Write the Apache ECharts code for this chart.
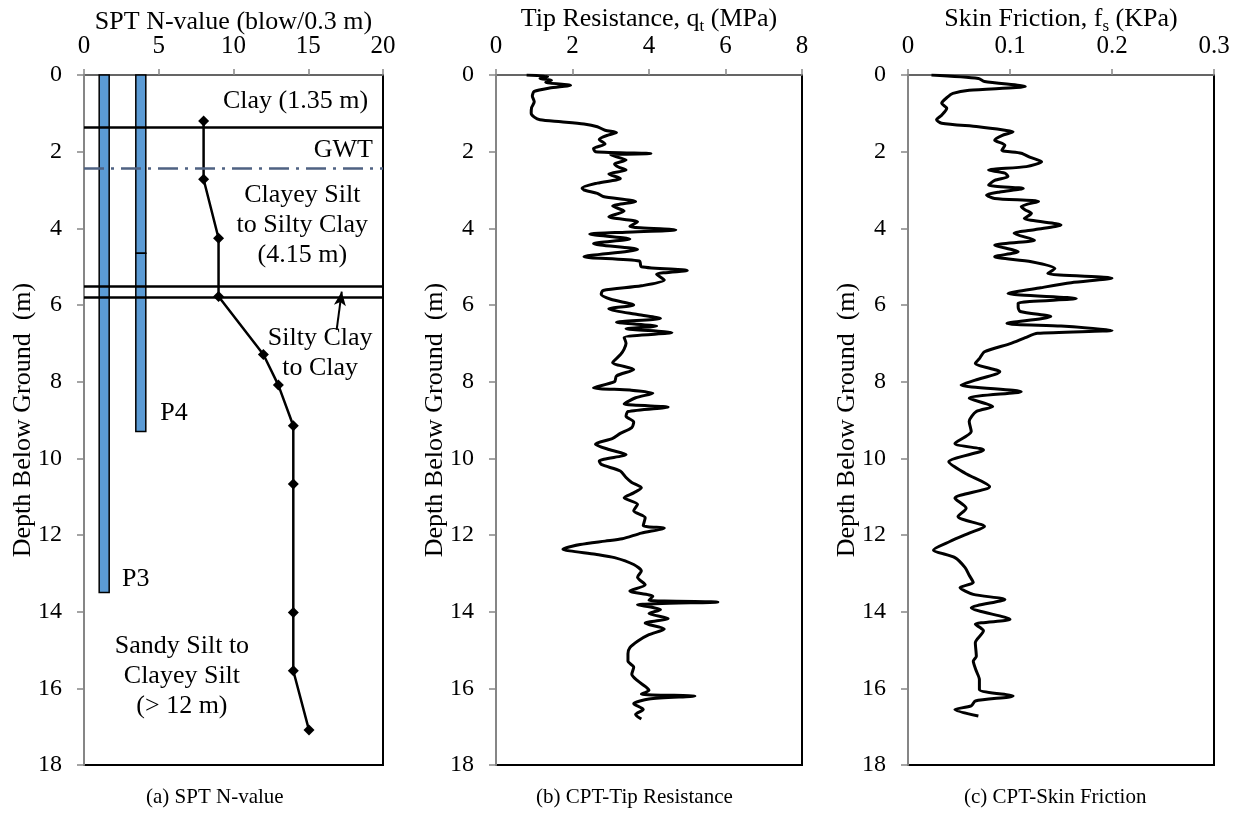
<!DOCTYPE html>
<html>
<head>
<meta charset="utf-8">
<script src="https://cdn.jsdelivr.net/npm/echarts@6/dist/echarts.min.js"></script>
<style>html,body{margin:0;padding:0;background:#fff}#c{width:1240px;height:817px}</style>
</head>
<body>
<div id="c"></div>
<script>
// ---- Data ----
const depthTicks = [0, 2, 4, 6, 8, 10, 12, 14, 16, 18];
// SPT N-value profile: [N, depth]
const sptN =     [8, 8, 9, 9, 12, 13, 14, 14, 14, 14, 15.05];
const sptDepth = [1.2, 2.72, 4.26, 5.78, 7.29, 8.09, 9.15, 10.67, 14.02, 15.54, 17.09];
// Piles: [x-position (N axis), top depth, bottom depth]
const pileP3 = [[1.35, 0, 13.5]];
const pileP4 = [[3.8, 0, 4.65], [3.8, 4.65, 9.3]];
// Layer boundaries (m) and ground water table (m)
const layerDepths = [1.35, 5.5, 5.8];
const gwtDepth = 2.43;
// CPT tip resistance: depth (m) and q_t (MPa)
const tipDepth = [0.00,0.04,0.09,0.14,0.19,0.27,0.34,0.43,0.55,0.70,0.85,1.00,1.10,1.17,1.22,1.28,1.35,1.44,1.50,1.56,1.68,1.80,1.92,2.00,2.05,2.08,2.15,2.22,2.32,2.40,2.48,2.58,2.70,2.82,2.95,3.00,3.09,3.17,3.30,3.42,3.55,3.70,3.83,3.95,4.04,4.10,4.15,4.28,4.40,4.55,4.74,4.85,5.00,5.10,5.20,5.35,5.50,5.62,5.72,5.85,6.00,6.10,6.25,6.35,6.45,6.55,6.62,6.72,6.85,7.00,7.15,7.30,7.50,7.68,7.85,8.00,8.16,8.22,8.30,8.42,8.58,8.66,8.78,8.90,9.05,9.20,9.35,9.48,9.63,9.77,9.90,10.07,10.16,10.33,10.50,10.63,10.77,10.90,11.03,11.20,11.37,11.55,11.75,11.82,11.95,12.10,12.16,12.25,12.37,12.50,12.59,12.77,12.94,13.10,13.30,13.46,13.60,13.70,13.75,13.82,13.95,14.05,14.18,14.30,14.45,14.60,14.77,14.94,15.10,15.29,15.45,15.63,15.80,15.95,16.05,16.15,16.20,16.28,16.40,16.55,16.68,16.80];
const tipQ =     [0.80,1.35,1.15,1.45,1.30,1.95,1.40,1.00,0.95,1.00,0.93,0.92,1.00,1.15,1.70,2.30,2.65,2.85,3.15,2.95,2.70,2.85,2.55,2.60,4.05,3.00,3.20,3.40,3.10,3.20,3.40,2.95,3.25,2.65,2.25,2.30,2.65,2.80,3.65,3.05,3.35,2.95,3.70,3.50,4.70,3.40,2.45,3.50,2.55,3.70,2.30,3.75,3.80,5.00,4.20,4.40,3.80,2.80,2.75,3.00,3.60,2.95,3.70,4.30,3.15,4.20,3.40,4.60,3.35,3.40,3.35,3.25,3.05,3.60,3.15,3.10,2.55,3.50,4.10,3.65,3.35,4.50,3.45,3.40,3.60,3.55,3.25,3.05,2.60,2.95,3.40,2.70,2.75,3.25,3.40,3.55,3.80,3.60,3.35,3.70,3.60,3.90,3.85,4.40,3.80,3.30,2.85,2.20,1.75,2.60,3.10,3.60,3.80,3.70,3.90,3.50,4.10,4.00,5.80,3.70,4.30,4.00,4.50,3.90,4.40,4.00,3.70,3.50,3.45,3.45,3.60,3.55,3.70,3.90,4.00,3.80,5.20,4.00,3.60,3.85,3.65,3.80];
// CPT skin friction: depth (m) and f_s (KPa)
const fsDepth = [0.00,0.09,0.17,0.30,0.40,0.48,0.57,0.74,0.87,1.05,1.17,1.26,1.35,1.44,1.48,1.58,1.70,1.83,1.96,2.04,2.15,2.26,2.39,2.48,2.56,2.65,2.75,2.87,2.96,3.05,3.13,3.22,3.30,3.43,3.52,3.61,3.74,3.91,4.03,4.13,4.31,4.44,4.61,4.74,4.87,5.05,5.18,5.30,5.42,5.55,5.70,5.83,5.95,6.05,6.17,6.30,6.48,6.55,6.66,6.74,6.85,7.00,7.22,7.40,7.52,7.74,7.96,8.09,8.26,8.43,8.65,8.78,9.04,9.30,9.61,9.78,10.09,10.39,10.74,11.04,11.30,11.52,11.78,11.95,12.17,12.39,12.59,12.85,13.05,13.24,13.37,13.55,13.68,13.90,14.20,14.33,14.50,14.81,15.16,15.29,15.55,15.77,16.03,16.20,16.33,16.46,16.55,16.72];
const fsVal =   [0.023,0.069,0.075,0.115,0.060,0.044,0.039,0.033,0.038,0.033,0.028,0.033,0.069,0.095,0.103,0.092,0.085,0.095,0.092,0.111,0.120,0.131,0.116,0.079,0.095,0.098,0.085,0.079,0.113,0.090,0.077,0.085,0.128,0.111,0.115,0.121,0.114,0.150,0.125,0.104,0.124,0.085,0.108,0.085,0.121,0.144,0.137,0.200,0.160,0.130,0.098,0.165,0.108,0.108,0.110,0.140,0.097,0.150,0.200,0.127,0.115,0.101,0.075,0.070,0.066,0.090,0.066,0.052,0.111,0.060,0.083,0.067,0.060,0.062,0.046,0.074,0.040,0.056,0.080,0.046,0.057,0.049,0.075,0.060,0.041,0.025,0.046,0.056,0.060,0.064,0.051,0.064,0.095,0.062,0.100,0.066,0.074,0.066,0.067,0.064,0.067,0.070,0.070,0.103,0.066,0.062,0.046,0.069];
// Annotation texts with anchor points in data units [N, depth]
const notes = [
  {text: 'Clay (1.35 m)', at: [19.0, 0.68], align: 'right'},
  {text: 'GWT', at: [19.33, 1.96], align: 'right'},
  {text: 'Clayey Silt\nto Silty Clay\n(4.15 m)', at: [14.6, 3.91], align: 'center'},
  {text: 'Silty Clay\nto Clay', at: [15.8, 7.25], align: 'center'},
  {text: 'P4', at: [5.1, 8.82], align: 'left'},
  {text: 'P3', at: [2.55, 13.15], align: 'left'},
  {text: 'Sandy Silt to\nClayey Silt\n(> 12 m)', at: [6.55, 15.68], align: 'center'}
];
const arrowFrom = [16.9, 6.65];
const arrowTo = [17.24, 5.65];

// ---- Chart ----
const FONT = 'Liberation Serif';
const AX = '#868686';
const chart = echarts.init(document.getElementById('c'));

function zip(xs, ys) { return xs.map((x, i) => [x, ys[i]]); }

const grids = [
  {left: 84, top: 75, width: 299, height: 690},
  {left: 496, top: 75, width: 306, height: 690},
  {left: 908, top: 75, width: 306, height: 690}
].map(g => Object.assign({show: true, borderColor: '#000', borderWidth: 2, backgroundColor: 'transparent',
                          containLabel: false, outerBoundsMode: 'none'}, g));

function xAxis(i, max, interval, name, rich) {
  return {
    gridIndex: i, type: 'value', position: 'top', min: 0, max: max, interval: interval,
    axisLine: {show: true, onZero: false, lineStyle: {color: AX, width: 1.5}},
    axisTick: {show: true, length: 6, lineStyle: {color: AX, width: 1.5}},
    axisLabel: {color: '#000', fontFamily: FONT, fontSize: 25, margin: 16},
    splitLine: {show: false},
    name: name, nameLocation: 'middle', nameGap: 40, nameMoveOverlap: false,
    nameTextStyle: {color: '#000', fontFamily: FONT, fontSize: 26, rich: rich}
  };
}
function yAxis(i) {
  return {
    gridIndex: i, type: 'value', inverse: true, min: 0, max: 18, interval: 2,
    axisLine: {show: true, onZero: false, lineStyle: {color: AX, width: 2}},
    axisTick: {show: true, length: 7, lineStyle: {color: AX, width: 1.5}},
    axisLabel: {color: '#000', fontFamily: FONT, fontSize: 24, margin: 22},
    splitLine: {show: false},
    name: 'Depth Below Ground  (m)', nameLocation: 'middle', nameGap: 48, nameRotate: 90,
    nameMoveOverlap: false,
    nameTextStyle: {color: '#000', fontFamily: FONT, fontSize: 26}
  };
}
const richTitle = {
  a: {fontFamily: FONT, fontSize: 26, color: '#000'},
  s: {fontFamily: FONT, fontSize: 17, color: '#000', verticalAlign: 'bottom', padding: [14, 0, 0, 0]}
};

function pileSeries(data) {
  return {
    type: 'custom', xAxisIndex: 0, yAxisIndex: 0, z: 2, silent: true,
    data: data,
    renderItem: function (params, api) {
      const p0 = api.coord([api.value(0), api.value(1)]);
      const p1 = api.coord([api.value(0), api.value(2)]);
      return {type: 'rect', shape: {x: p0[0] - 5, y: p0[1], width: 10, height: p1[1] - p0[1]},
              style: {fill: '#5B9BD5', stroke: '#000', lineWidth: 1.5}};
    }
  };
}

const option = {
  animation: false,
  backgroundColor: '#fff',
  grid: grids,
  xAxis: [
    xAxis(0, 20, 5, 'SPT N-value (blow/0.3 m)'),
    xAxis(1, 8, 2, '{a|Tip Resistance, q}{s|t}{a| (MPa)}', richTitle),
    xAxis(2, 0.3, 0.1, '{a|Skin Friction, f}{s|s}{a| (KPa)}', richTitle)
  ],
  yAxis: [yAxis(0), yAxis(1), yAxis(2)],
  series: [
    pileSeries(pileP3),
    pileSeries(pileP4),
    {
      type: 'line', xAxisIndex: 0, yAxisIndex: 0, z: 3, silent: true,
      data: [], symbol: 'none',
      markLine: {
        silent: true, symbol: 'none', label: {show: false},
        lineStyle: {color: '#000', width: 2.5, type: 'solid'},
        data: layerDepths.map(d => ({yAxis: d})).concat([
          {yAxis: gwtDepth, lineStyle: {color: '#4F6282', width: 2.5, type: [20, 7, 3, 7]}}
        ])
      }
    },
    {
      type: 'line', xAxisIndex: 0, yAxisIndex: 0, z: 4, silent: true,
      data: zip(sptN, sptDepth),
      symbol: 'diamond', symbolSize: 11,
      itemStyle: {color: '#000'},
      lineStyle: {color: '#000', width: 2.5}
    },
    {
      type: 'line', xAxisIndex: 0, yAxisIndex: 0, z: 5, silent: true,
      data: [], symbol: 'none',
      markLine: {
        silent: true, label: {show: false}, symbol: ['none', 'arrow'], symbolSize: [9, 14],
        lineStyle: {color: '#000', width: 2, type: 'solid'},
        data: [[{coord: arrowFrom}, {coord: arrowTo}]]
      }
    },
    {
      type: 'scatter', xAxisIndex: 0, yAxisIndex: 0, z: 6, silent: true,
      symbolSize: 0, itemStyle: {opacity: 1},
      data: notes.map(n => ({value: n.at, name: n.text, label: {align: n.align}})),
      label: {show: true, position: 'inside', formatter: '{b}', color: '#000', opacity: 1,
              fontFamily: FONT, fontSize: 26, lineHeight: 30, verticalAlign: 'middle'}
    },
    {
      type: 'line', xAxisIndex: 1, yAxisIndex: 1, silent: true,
      data: zip(tipQ, tipDepth), symbol: 'none', smooth: 0.25,
      lineStyle: {color: '#000', width: 3}
    },
    {
      type: 'line', xAxisIndex: 2, yAxisIndex: 2, silent: true,
      data: zip(fsVal, fsDepth), symbol: 'none', smooth: 0.25,
      lineStyle: {color: '#000', width: 3}
    }
  ],
  graphic: [
    {type: 'text', left: 146, top: 787, style: {text: '(a) SPT N-value', font: '21px "Liberation Serif"', fill: '#000'}},
    {type: 'text', left: 536, top: 787, style: {text: '(b) CPT-Tip Resistance', font: '21px "Liberation Serif"', fill: '#000'}},
    {type: 'text', left: 964, top: 787, style: {text: '(c) CPT-Skin Friction', font: '21px "Liberation Serif"', fill: '#000'}}
  ]
};
chart.setOption(option);
</script>
</body>
</html>
